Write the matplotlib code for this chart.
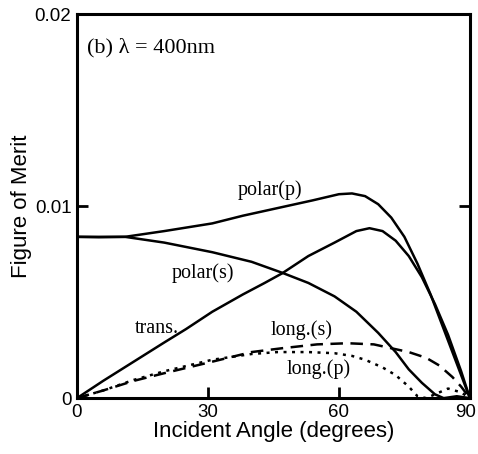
import numpy as np
import matplotlib.pyplot as plt
import matplotlib.transforms as mtransforms

# values (angle in degrees, figure of merit)
polar_p_x = [0, 5, 11, 20, 31, 38, 46, 54, 60, 63, 66, 69, 72, 75, 78, 81, 84, 87, 90]
polar_p_y = [0.0084, 0.0084, 0.0084, 0.0087, 0.0091, 0.0095, 0.0099, 0.0103, 0.01062, 0.01066,
             0.01052, 0.0101, 0.0094, 0.0084, 0.0070, 0.0054, 0.0036, 0.0018, 0.0]

polar_s_x = [0, 5, 11, 20, 31, 40, 47, 53, 59, 64, 69, 73, 76, 79, 82, 84, 87, 90]
polar_s_y = [0.0084, 0.00838, 0.0084, 0.0081, 0.0076, 0.0071, 0.00653, 0.0060, 0.0053, 0.0045,
             0.0034, 0.0024, 0.0015, 0.0008, 0.0002, 0.0, 0.0001, 0.0]

trans_x = [0, 6, 13, 20, 25, 31, 38, 43, 47, 53, 59, 64, 67, 70, 73, 76, 79, 82, 85, 88, 90]
trans_y = [0.0, 0.0009, 0.0019, 0.0029, 0.0036, 0.0045, 0.0054, 0.0060, 0.0065, 0.0074, 0.0081,
           0.0087, 0.00885, 0.0087, 0.0082, 0.0074, 0.0063, 0.0049, 0.0033, 0.0014, 0.0]

long_s_x = [0, 6, 13, 20, 31, 40, 47, 55, 62, 68, 72, 76, 80, 83, 86, 88, 90]
long_s_y = [0.0, 0.0004, 0.0009, 0.0013, 0.0019, 0.0024, 0.0026, 0.0028, 0.00286, 0.0028,
            0.0026, 0.0024, 0.0021, 0.0017, 0.0011, 0.0006, 0.0]

long_p_x = [0, 6, 13, 20, 31, 40, 46, 53, 59, 63, 66, 70, 73, 76, 78, 80, 82, 85, 88, 90]
long_p_y = [0.0, 0.0004, 0.00095, 0.0014, 0.0020, 0.0023, 0.0024, 0.0024, 0.00234, 0.0022,
            0.0020, 0.0016, 0.0012, 0.0006, 0.0001, 0.0, 0.0002, 0.0005, 0.0003, 0.0]

x_ticks = [0, 30, 60, 90]
y_ticks = [0, 0.01, 0.02]
y_tick_labels = ['0', '0.01', '0.02']

sans = ['Liberation Sans', 'DejaVu Sans']
serif = ['Liberation Serif', 'DejaVu Serif']

fig = plt.figure(figsize=(4.78, 4.54), dpi=100)
ax = fig.add_axes([0.161, 0.123, 0.822, 0.846])

lw = 1.8
ax.plot(polar_p_x, polar_p_y, 'k-', lw=lw)
ax.plot(polar_s_x, polar_s_y, 'k-', lw=lw)
ax.plot(trans_x, trans_y, 'k-', lw=lw)
ax.plot(long_s_x, long_s_y, 'k', lw=lw, linestyle=(0, (5, 3)))
ax.plot(long_p_x, long_p_y, 'k', lw=lw, linestyle=(0, (1.2, 2.2)))

ax.set_xlim(0, 90)
ax.set_ylim(0, 0.02)
ax.set_xticks(x_ticks)
ax.set_xticklabels([str(t) for t in x_ticks], fontfamily=sans, fontsize=13.5)
ax.set_yticks(y_ticks)
ax.set_yticklabels(y_tick_labels, fontfamily=sans, fontsize=13.5)
ax.tick_params(direction='in', length=8, width=2, right=True, top=False)
ax.tick_params(axis='x', pad=4)
ax.tick_params(axis='y', pad=4)

# the last x label sits against the right edge, as in the original
last = ax.get_xticklabels()[-1]
last.set_transform(last.get_transform() + mtransforms.ScaledTranslation(-4 / 100, 0, fig.dpi_scale_trans))

for s in ax.spines.values():
    s.set_linewidth(2.2)

ax.set_xlabel('Incident Angle (degrees)', fontfamily=sans, fontsize=16, labelpad=0)
ax.set_ylabel('Figure of Merit', fontfamily=sans, fontsize=16, labelpad=2)

# curve labels
ax.text(2.3, 0.01823, '(b) λ = 400nm', fontfamily=serif, fontsize=16, va='center')
ax.text(36.8, 0.01083, 'polar(p)', fontfamily=serif, fontsize=14.5, va='center')
ax.text(21.7, 0.00651, 'polar(s)', fontfamily=serif, fontsize=14.5, va='center')
ax.text(13.3, 0.00365, 'trans.', fontfamily=serif, fontsize=14.5, va='center')
ax.text(44.4, 0.00354, 'long.(s)', fontfamily=serif, fontsize=14.5, va='center')
ax.text(48, 0.00151, 'long.(p)', fontfamily=serif, fontsize=14.5, va='center')

fig.savefig('out.png', dpi=100)
